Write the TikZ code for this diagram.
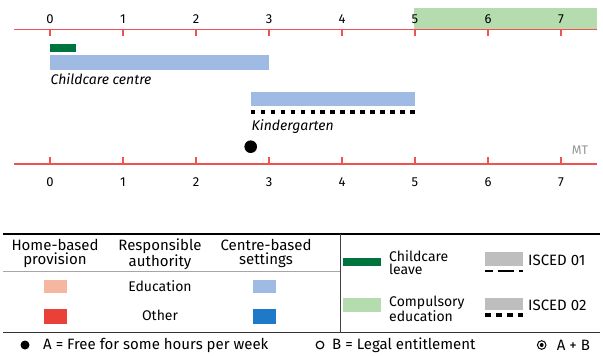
\documentclass[tikz,border=0pt]{standalone}
\usepackage{fontspec}
\setmainfont{Fira Sans}[Numbers=Lining]
\definecolor{axisred}{RGB}{240,82,82}
\definecolor{compgreen}{RGB}{181,220,174}
\definecolor{leavegreen}{RGB}{0,116,62}
\definecolor{edublue}{RGB}{160,187,227}
\definecolor{othblue}{RGB}{30,122,200}
\definecolor{edupink}{RGB}{246,183,160}
\definecolor{othred}{RGB}{233,64,56}
\definecolor{iscedgray}{RGB}{190,190,190}
\definecolor{mtgray}{RGB}{150,150,150}
\begin{document}
\begin{tikzpicture}[x=1pt,y=-1pt,
  axisline/.style={draw=axisred,line width=1.2pt},
  ticklab/.style={font=\fontsize{13}{13}\selectfont,inner sep=0pt},
  barlab/.style={font=\fontsize{14}{14}\selectfont\itshape,anchor=west,inner sep=0pt},
  legtxt/.style={font=\fontsize{14}{13.6}\selectfont,inner sep=0pt},
  headtxt/.style={font=\fontsize{15}{14.3}\selectfont,inner sep=0pt,align=center},
  legleft/.style={legtxt,anchor=west,align=left},
  keytxt/.style={font=\fontsize{15}{15}\selectfont,inner sep=0pt,anchor=west},
  sqdots/.style={line width=4pt,dash pattern=on 4.5pt off 5.47pt}]
\useasboundingbox (0,0) rectangle (603,356);
\fill[white] (0,0) rectangle (603,356);
% compulsory education band
\fill[compgreen] (414.3,8) rectangle (597,29.5);
% top axis
\coordinate (ta0) at (14,29.5);
\coordinate (ta1) at (597,29.5);
\draw[axisline] (ta0) -- (ta1);
\foreach \k in {0,...,7}{
  \draw[axisline] (50+73*\k,29.5) -- (50+73*\k,36);
  \node[ticklab] (tt\k) at (50+73*\k,19.5) {\k};
}
% bars
\fill[leavegreen] (50,44.3) rectangle (76.3,51.7);
\fill[edublue] (50,55) rectangle (269,69.7);
\node[barlab] (cc) at (50.5,79) {Childcare centre};
\fill[edublue] (250.7,92) rectangle (415,105.7);
\draw[sqdots] (250.7,112.3) -- (415,112.3);
\node[barlab] (kg) at (251.5,126.7) {Kindergarten};
\fill (250.7,146.7) circle (6.3pt);
\node[font=\fontsize{12.5}{12.5}\selectfont,text=mtgray,inner sep=0pt] (mt) at (580,150) {MT};
% bottom axis
\coordinate (ba0) at (14,164);
\coordinate (ba1) at (597,164);
\draw[axisline] (ba0) -- (ba1);
\foreach \k in {0,...,7}{
  \draw[axisline] (50+73*\k,157.3) -- (50+73*\k,164);
  \node[ticklab] (bt\k) at (50+73*\k,182) {\k};
}
% legend frame
\draw[line width=2pt] (3,234.3) -- (600,234.3);
\draw[draw=black!35,line width=0.8pt] (3,271.7) -- (340,271.7);
\draw[draw=black!80,line width=1.5pt] (3,332.5) -- (600,332.5);
\draw[draw=black!75,line width=1pt] (340,234.3) -- (340,332.5);
% left legend
\node[headtxt] (hb) at (55,253.8) {Home-based\\provision};
\node[headtxt] (ra) at (160,253.8) {Responsible\\authority};
\node[headtxt] (cb) at (266,253.8) {Centre-based\\settings};
\node[legtxt] (ed) at (160,286) {Education};
\node[legtxt] (ot) at (160,315) {Other};
\fill[edupink] (44.3,280) rectangle (66.7,293.3);
\fill[othred] (44.3,309) rectangle (66.7,324);
\fill[edublue] (253,280) rectangle (276,293.3);
\fill[othblue] (253,309) rectangle (276,324);
% right legend
\fill[leavegreen] (343.3,257.7) rectangle (381,265.7);
\fill[compgreen] (343.3,297.7) rectangle (381,312.3);
\node[legleft] (cl) at (389,262.5) {Childcare\\leave};
\node[legleft,font=\fontsize{14}{11.5}\selectfont] (ce) at (389,308.7) {Compulsory\\education};
\fill[iscedgray] (485,252.3) rectangle (522.7,265.7);
\draw[line width=2pt,dash pattern=on 16pt off 5pt,dash phase=8pt] (485,271) -- (522.7,271);
\node[keytxt] (i1) at (528,260) {ISCED 01};
\fill[iscedgray] (485,297.7) rectangle (522.7,310);
\draw[line width=4pt,dash pattern=on 6pt off 4.9pt] (485,315) -- (522.7,315);
\node[keytxt] (i2) at (528,305) {ISCED 02};
% bottom key
\fill (25,345) circle (4.5pt);
\node[keytxt] (ka) at (43,345) {A = Free for some hours per week};
\draw[line width=1.2pt] (320,345) circle (3.8pt);
\node[keytxt] (kb) at (332,345) {B = Legal entitlement};
\draw[line width=1pt] (541.7,345) circle (4.3pt);
\fill (541.7,345) circle (2pt);
\node[keytxt] (kab) at (556.7,345) {A + B};
\end{tikzpicture}
\end{document}
